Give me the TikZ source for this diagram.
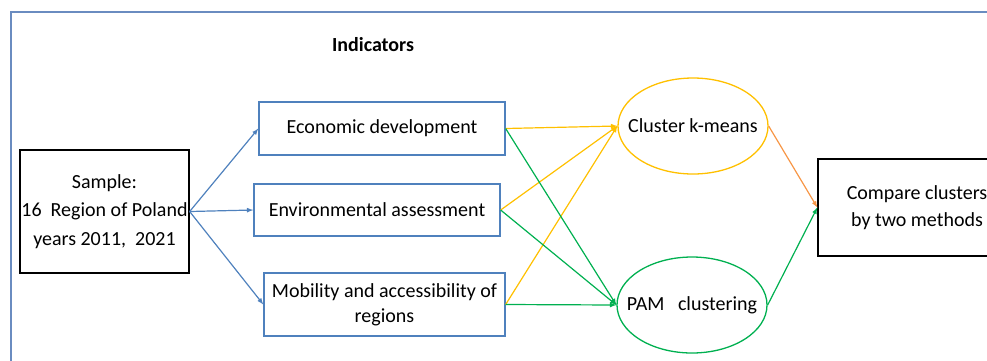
\documentclass[tikz,border=0pt]{standalone}
\usepackage{fontspec}
\setmainfont{Carlito}
\usetikzlibrary{arrows,shapes.geometric}
\definecolor{boxblue}{HTML}{4F81BD}
\definecolor{frameblue}{HTML}{6A8CC0}
\definecolor{kyellow}{HTML}{FFC000}
\definecolor{pgreen}{HTML}{00B050}
\definecolor{corange}{HTML}{F79646}

\begin{document}
\begin{tikzpicture}[x=1pt,y=-1pt]
\tikzstyle{every node}=[inner sep=0pt, align=center, font=\fontsize{20}{28.5}\selectfont]
\tikzstyle{sbox}=[draw=black, line width=1.3pt, rectangle]
\tikzstyle{ibox}=[draw=boxblue, line width=1.3pt, rectangle]
\tikzstyle{cell}=[draw, line width=1.3pt, ellipse, inner xsep=-14pt, minimum width=150pt, minimum height=96pt]
\tikzstyle{feed}=[-latex, line width=1.2pt]
\useasboundingbox (0,0) rectangle (987,360);
\draw[frameblue, line width=1.5pt] (11,12) rectangle (1020,390);
\draw (373,45) node (ind) [font=\fontsize{20}{28}\selectfont\bfseries] {Indicators};
\draw (104.5,211.5) node (samp) [sbox, minimum width=169pt, minimum height=123pt] {Sample:\\16~ Region of Poland\\years 2011,~ 2021};
\draw (382,128.5) node (econ) [ibox, minimum width=246pt, minimum height=53pt] {Economic development};
\draw (377,210) node (env) [ibox, minimum width=246pt, minimum height=52pt] {Environmental assessment};
\draw (384.5,304.5) node (mob) [ibox, minimum width=241pt, minimum height=63pt, font=\fontsize{20}{25}\selectfont] {Mobility and accessibility of\\regions};
\draw (693,126) node (km) [cell, draw=kyellow] {Cluster k-means};
\draw (692,305) node (pam) [cell, draw=pgreen] {PAM\ \ \ clustering};
\draw (917,207.5) node (cmp) [sbox, minimum width=198pt, minimum height=97pt, font=\fontsize{20}{27}\selectfont] {Compare clusters\\by two methods};
\draw[feed, boxblue] (samp.east) -- (econ.west);
\draw[feed, boxblue] (samp.east) -- (env.west);
\draw[feed, boxblue] (samp.east) -- (mob.west);
\draw[feed, kyellow] (econ.east) -- (km.west);
\draw[feed, kyellow] (env.east) -- (km.west);
\draw[feed, kyellow] (mob.east) -- (km.west);
\draw[feed, pgreen] (econ.east) -- (pam.west);
\draw[feed, pgreen] (env.east) -- (pam.west);
\draw[feed, pgreen] (mob.east) -- (pam.west);
\draw[feed, corange] (km.east) -- (cmp.west);
\draw[feed, pgreen] (pam.east) -- (cmp.west);
\end{tikzpicture}
\end{document}
